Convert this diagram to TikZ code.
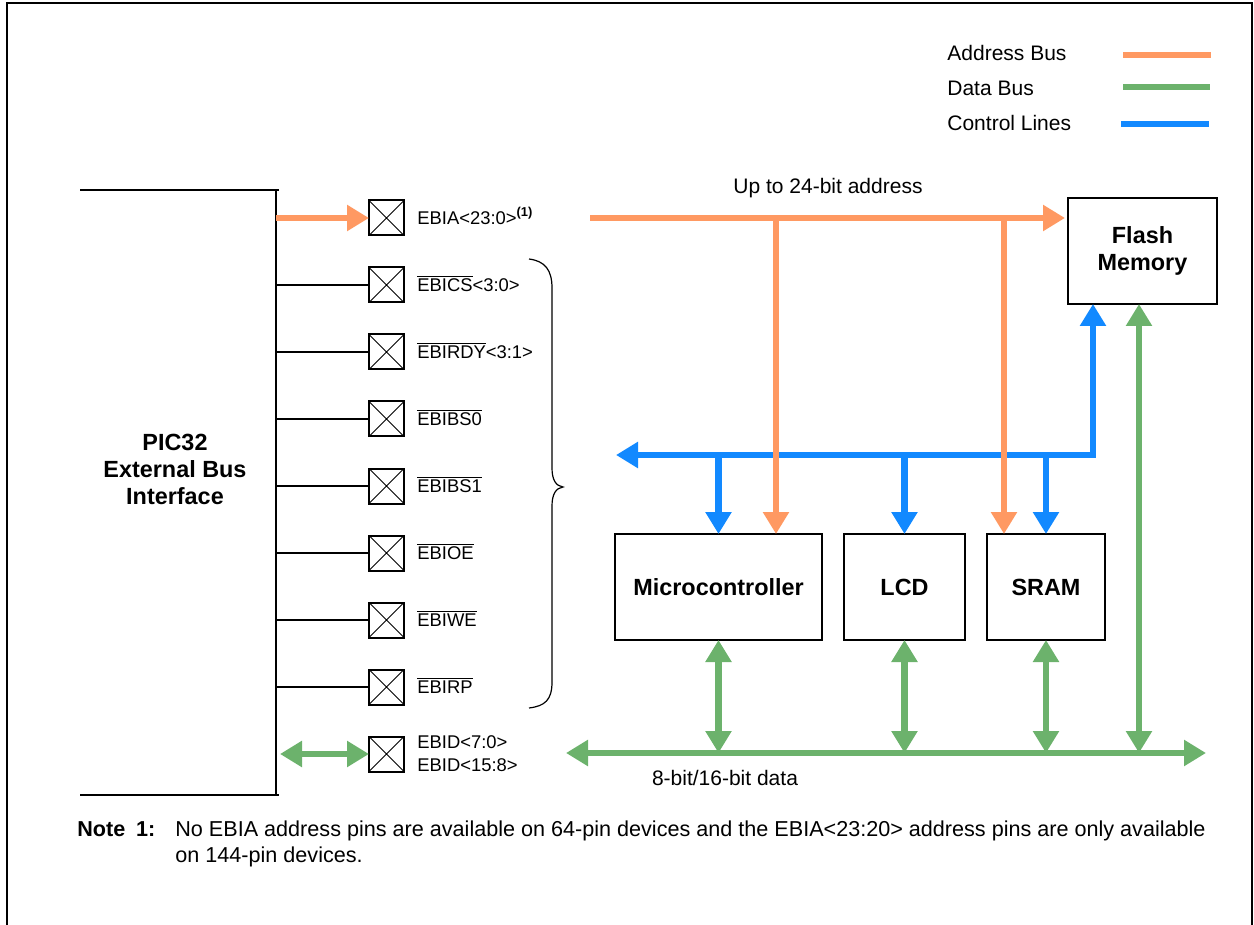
\documentclass[tikz,border=0pt]{standalone}
\usepackage{fontspec}
\setmainfont{Liberation Sans}
\usepackage{xcolor}
\usetikzlibrary{positioning,arrows.meta}

\definecolor{addrorange}{RGB}{255,153,98}
\definecolor{datagreen}{RGB}{108,178,108}
\definecolor{ctrlblue}{RGB}{18,137,255}

\newcommand{\sigbar}[1]{$\overline{\hbox{#1}}$}

\tikzset{
  pinbox/.style={draw, line width=1pt, minimum size=17.5pt, inner sep=0pt, outer sep=0pt,
    path picture={\draw[line width=0.5pt] (path picture bounding box.north west) -- (path picture bounding box.south east)
      (path picture bounding box.south west) -- (path picture bounding box.north east);}},
  pinlabel/.style={anchor=west, text height=6.6pt, text depth=0pt, font=\fontsize{9.2}{11.5}\selectfont},
  blocktext/.style={font=\bfseries\fontsize{11.7}{13.5}\selectfont, align=center},
  block/.style={blocktext, draw, line width=1pt, outer sep=0pt, minimum height=53pt},
  bus/.style={line width=3.3pt},
  addrbus/.style={bus, addrorange},
  databus/.style={bus, datagreen},
  ctrlbus/.style={bus, ctrlblue},
  bustip/.tip={Triangle[width=12.5pt, length=11pt]},
}

\begin{document}
\begin{tikzpicture}[x=0.5pt, y=-0.5pt, inner sep=0pt, font=\fontsize{10.5}{12.5}\selectfont]
    \useasboundingbox (0,0) rectangle (1254,925);
    \draw[line width=1pt] (7,925) -- (7,3) -- (1252,3) -- (1252,925);

    % legend
    \node[anchor=west] (laddr) at (947,53) {Address Bus};
    \node[anchor=west] (ldata) at (947,88) {Data Bus};
    \node[anchor=west] (lctrl) at (947,123) {Control Lines};
    \draw[addrbus] (1123,55) -- (1211,55);
    \draw[databus] (1123,87) -- (1210,87);
    \draw[ctrlbus] (1121,124) -- (1209,124);

    % PIC32 side
    \coordinate (pictop) at (276,190);
    \coordinate (picbot) at (276,795);
    \draw[line width=1pt] (80,190) -- (279,190) (pictop) -- (picbot) (80,795) -- (279,795);
    \node[blocktext] (pic) at (175,469) {PIC32\\External Bus\\Interface};

    \node[pinbox] (pa) at (386.5,218) {};
    \node[pinbox, below=16pt of pa] (pcs) {};
    \node[pinbox, below=16pt of pcs] (prdy) {};
    \node[pinbox, below=16pt of prdy] (pbs0) {};
    \node[pinbox, below=16pt of pbs0] (pbs1) {};
    \node[pinbox, below=16pt of pbs1] (poe) {};
    \node[pinbox, below=16pt of poe] (pwe) {};
    \node[pinbox, below=16pt of pwe] (prp) {};
    \node[pinbox, below=16pt of prp] (pd) {};

    \node[pinlabel, right=6.5pt of pa] (lba) {EBIA<23:0>\textsuperscript{\bfseries (1)}};
    \node[pinlabel, right=6.5pt of pcs] (lbcs) {\sigbar{EBICS}<3:0>};
    \node[pinlabel, right=6.5pt of prdy] (lbrdy) {\sigbar{EBIRDY}<3:1>};
    \node[pinlabel, right=6.5pt of pbs0] (lbbs0) {\sigbar{EBIBS0}};
    \node[pinlabel, right=6.5pt of pbs1] (lbbs1) {\sigbar{EBIBS1}};
    \node[pinlabel, right=6.5pt of poe] (lboe) {\sigbar{EBIOE}};
    \node[pinlabel, right=6.5pt of pwe] (lbwe) {\sigbar{EBIWE}};
    \node[pinlabel, right=6.5pt of prp] (lbrp) {\sigbar{EBIRP}};
    \node[anchor=west, align=left, font=\fontsize{9.2}{11.5}\selectfont, right=6.5pt of pd] (lbd) {EBID<7:0>\\EBID<15:8>};

    \draw[line width=1pt] (pcs.west -| pictop) -- (pcs.west);
    \draw[line width=1pt] (prdy.west -| pictop) -- (prdy.west);
    \draw[line width=1pt] (pbs0.west -| pictop) -- (pbs0.west);
    \draw[line width=1pt] (pbs1.west -| pictop) -- (pbs1.west);
    \draw[line width=1pt] (poe.west -| pictop) -- (poe.west);
    \draw[line width=1pt] (pwe.west -| pictop) -- (pwe.west);
    \draw[line width=1pt] (prp.west -| pictop) -- (prp.west);
    \draw[addrbus, -bustip] (pa.west -| pictop) -- (pa.west);
    \draw[databus, bustip-bustip, shorten <=2pt] (pd.west -| pictop) -- (pd.west);

    % brace round the control pins
    \draw[line width=0.6pt] (529,259) .. controls (545,261) and (552,270) .. (552,288) -- (552,468)
        .. controls (552,480) and (556,486) .. (563,487) .. controls (556,488) and (552,494) .. (552,506)
        -- (552,682) .. controls (552,700) and (545,706) .. (529,708);

    % memory side
    \node[block, minimum width=103.5pt] (micro) at (718.5,587) {Microcontroller};
    \node[block, minimum width=60.5pt, right=11pt of micro] (lcd) {LCD};
    \node[block, minimum width=59pt, right=11pt of lcd] (sram) {SRAM};
    \node[block, minimum width=74.5pt] (flash) at (1142.5,251) {Flash\\Memory};

    % control lines
    \coordinate (cleft) at (616,455);
    \coordinate (cjoin) at (1093,455);
    \draw[ctrlbus, bustip-bustip] (cleft) -- (cjoin) -- (cjoin |- flash.south);
    \draw[ctrlbus, -bustip] (micro.north |- cjoin) -- (micro.north);
    \draw[ctrlbus, -bustip] (lcd.north |- cjoin) -- (lcd.north);
    \draw[ctrlbus, -bustip] (sram.north |- cjoin) -- (sram.north);

    % address bus
    \coordinate (astart) at (590,218);
    \coordinate (adrop1) at (776,218);
    \coordinate (adrop2) at (1004,218);
    \draw[addrbus, -bustip, shorten >=1.5pt] (astart) -- (flash.west |- astart);
    \draw[addrbus, -bustip] (adrop1) -- (adrop1 |- micro.north);
    \draw[addrbus, -bustip] (adrop2) -- (adrop2 |- sram.north);
    \node (uplbl) at (828,188) {Up to 24-bit address};

    % data bus
    \coordinate (dleft) at (566,753);
    \coordinate (dright) at (1206,753);
    \coordinate (fdata) at ([xshift=-1.75pt]flash.south);
    \draw[databus, bustip-bustip] (dleft) -- (dright);
    \draw[databus, bustip-bustip] (micro.south) -- (micro.south |- dleft);
    \draw[databus, bustip-bustip] (lcd.south) -- (lcd.south |- dleft);
    \draw[databus, bustip-bustip] (sram.south) -- (sram.south |- dleft);
    \draw[databus, bustip-bustip] (fdata) -- (fdata |- dleft);
    \node (datalbl) at (725,778) {8-bit/16-bit data};

    % note
    \node[anchor=base west, font=\bfseries\fontsize{10.8}{12.8}\selectfont] (notehead) at (77,836) {Note\hspace{0.5em}1:};
    \node[anchor=base west, font=\fontsize{10.8}{12.8}\selectfont] (noteline1) at (175,836) {No EBIA address pins are available on 64-pin devices and the EBIA<23:20> address pins are only available};
    \node[anchor=base west, font=\fontsize{10.8}{12.8}\selectfont] (noteline2) at (175,862) {on 144-pin devices.};
\end{tikzpicture}
\end{document}
